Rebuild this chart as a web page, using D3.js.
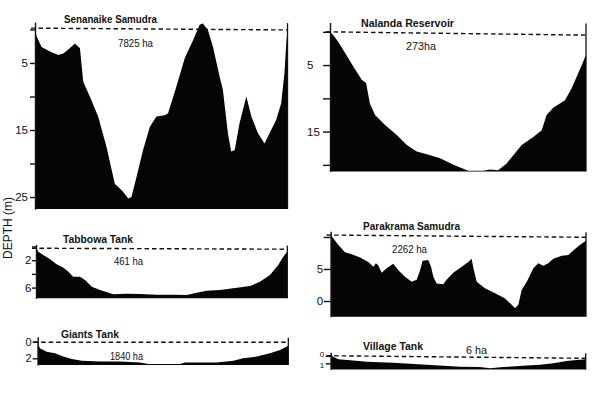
<!DOCTYPE html>
<html><head><meta charset="utf-8">
<script src="https://cdn.jsdelivr.net/npm/d3@7/dist/d3.min.js"></script>
<style>body{margin:0;background:#fff}svg{display:block}text{font-family:"Liberation Sans",Arial,sans-serif}</style>
</head><body><svg id="c" width="600" height="407"></svg>
<script>
// ---------- DATA ----------
const lakeNames = ["Senanaike Samudra","Nalanda Reservoir","Tabbowa Tank","Parakrama Samudra","Giants Tank","Village Tank"];
const lakeAreas = ["7825 ha","273ha","461 ha","2262 ha","1840 ha","6 ha"];
const axisTitle = "DEPTH (m)";

// distance along transect (% of width) and depth (m)
const senanaikeDist  = [0,0.7,2.6,5.9,9.2,11.2,13.2,15.8,17.8,19.1,21.7,25.0,28.3,31.6,34.9,36.9,38.2,40.2,42.8,45.5,48.1,51.4,52.7,56.0,59.3,62.6,65.2,66.5,68.5,70.5,73.1,74.4,76.4,77.7,79.1,81.0,83.7,85.7,88.3,90.9,92.9,95.5,97.5,98.8,99.5,100];
const senanaikeDepth = [0,1.1,2.6,3.3,3.8,3.6,3.0,2.1,2.8,7.8,10.0,13.0,17.5,23.0,24.2,25.2,25.0,22.0,18.0,14.5,13.0,12.8,12.5,8.5,4.3,1.6,-0.7,-0.9,0.1,2.6,7.0,9.0,15.5,18.2,18.0,14.0,10.0,13.0,15.5,17.0,15.5,13.5,11.0,6.5,2.1,0.1];

const nalandaDist  = [0,1.3,3.2,5.9,9.1,12.4,14.1,15.6,17.6,21.5,26.1,30.0,33.9,37.8,43.0,48.2,54.0,59.9,62.5,65.7,69.0,74.9,79.4,82.7,84.6,87.2,91.8,94.4,97.0,98.9,99.7,100];
const nalandaDepth = [0,0.5,1.5,3.2,5.2,7.2,7.7,10.8,12.5,14.0,15.5,17.0,18.0,18.4,19.0,20.0,20.9,20.9,20.7,20.8,19.8,17.0,15.8,14.8,12.5,11.4,10.3,8.5,6.2,4.5,3.7,3.6];

const tabbowaDist  = [0,0.9,2.9,5.6,8.2,10.9,12.9,14.8,17.5,19.5,22.2,25.5,30.8,36.1,41.4,48.0,54.6,60.0,63.9,67.9,73.2,78.5,85.2,89.1,93.1,96.4,98.4,100];
const tabbowaDepth = [0.2,0.76,1.24,1.87,2.6,3.1,3.68,4.4,4.4,4.9,5.87,6.35,6.98,6.9,6.93,7.04,7.04,7.08,6.74,6.45,6.35,6.1,5.77,5.14,4.16,2.7,1.49,0.76];

// Parakrama Samudra axis is a level scale (0 and 5 labelled, water at ~10)
const parakramaDist  = [0,1.0,3.0,5.6,8.2,11.5,14.7,16.7,17.7,18.6,20.0,21.9,24.5,26.5,29.1,31.7,33.7,35.0,36.0,38.2,39.3,40.2,41.5,44.1,45.4,48.0,51.3,53.9,55.2,55.9,57.2,60.4,64.4,68.3,70.9,72.2,73.5,74.8,76.8,79.4,81.3,83.3,85.2,87.2,90.5,93.1,95.0,97.6,100];
const parakramaLevel = [10.3,9.8,8.75,7.6,7.3,6.8,6.1,5.35,5.9,5.6,4.4,5.1,5.8,4.8,3.8,3.0,3.3,4.8,6.3,6.4,5.35,3.8,2.75,2.6,3.3,4.4,5.35,6.1,6.6,5.1,3.0,2.0,1.2,0.4,-0.6,-1.15,-0.6,1.7,3.0,5.1,5.9,5.5,5.9,6.6,7.05,7.2,7.9,8.75,9.4];

const giantsDist  = [0,0.9,3.6,6.9,10.2,13.6,17.6,24.9,32.8,40.8,44.1,51.5,56.8,58.8,64.8,71.4,78.1,82.0,87.4,92.7,96.7,100];
const giantsDepth = [0.2,0.8,1.2,1.4,1.8,2.1,2.3,2.4,2.4,2.5,2.7,2.7,2.7,2.5,2.5,2.5,2.3,2.0,1.8,1.4,1.0,0.5];

const villageDist  = [0,1.0,3.0,7.6,14.1,24.5,37.6,50.7,58.5,62.5,67.7,76.9,82.0,87.3,92.5,96.5,100];
const villageDepth = [-0.2,0.13,0.47,0.6,0.8,0.92,1.2,1.45,1.5,1.66,1.5,1.3,1.2,1.0,0.7,0.57,0.47];

// water surface (left, right) in axis units
const senanaikeWater = [-0.2,0.07];
const nalandaWater   = [0,0.5];
const tabbowaWater   = [0.26,0.4];
const parakramaWater = [10.3,9.95];
const giantsWater    = [0.07,0.07];
const villageWater   = [0,0.34];

// axis ticks
const senanaikeTicks = [0,5,10,15,20,25],  senanaikeTickLabels = ["","5","","15","","25"];
const nalandaTicks   = [0,5,10,15,20],     nalandaTickLabels   = ["","5","","15",""];
const tabbowaTicks   = [0,2,4,6],          tabbowaTickLabels   = ["","2","","6"];
const parakramaTicks = [10,5,0],           parakramaTickLabels = ["","5","0"];
const giantsTicks    = [0,2],              giantsTickLabels    = ["0","2"];
const villageTicks   = [0,1],              villageTickLabels   = ["0","1"];

// ---------- LAYOUT ----------
const panels = [
 {dist:senanaikeDist, val:senanaikeDepth, water:senanaikeWater, ticks:senanaikeTicks, labels:senanaikeTickLabels,
  x0:35, x1:287.5, dom:[-1.1,26.8], rng:[22.1,209.1], tick:5, pad:2, fs:11.5,
  title:[64,22.5,93], area:[118,46.5,35]},
 {dist:nalandaDist, val:nalandaDepth, water:nalandaWater, ticks:nalandaTicks, labels:nalandaTickLabels,
  x0:330, x1:586, dom:[-1.4,21.0], rng:[22.5,171.5], tick:7, pad:2, startAt:-23, fs:11.5,
  title:[361,26.7,93], area:[406,50,30]},
 {dist:tabbowaDist, val:tabbowaDepth, water:tabbowaWater, ticks:tabbowaTicks, labels:tabbowaTickLabels,
  x0:36, x1:287.3, dom:[-0.3,7.56], rng:[244.4,298.3], tick:4, pad:0.5, fs:11.5,
  title:[63,243,70], area:[114,265,29]},
 {dist:parakramaDist, val:parakramaLevel, water:parakramaWater, ticks:parakramaTicks, labels:parakramaTickLabels,
  x0:330.7, x1:586, dom:[10.9,-2.45], rng:[231.2,316.7], tick:7, pad:0.5, fs:11.5,
  title:[363,230,97], area:[392,253,35]},
 {dist:giantsDist, val:giantsDepth, water:giantsWater, ticks:giantsTicks, labels:giantsTickLabels,
  x0:37.7, x1:288.3, dom:[-0.6,2.8], rng:[336.7,364.9], tick:5, pad:1, fs:11,
  title:[61,337.5,58], area:[110,360,33]},
 {dist:villageDist, val:villageDepth, water:villageWater, ticks:villageTicks, labels:villageTickLabels,
  x0:330.7, x1:585.7, dom:[-0.45,1.8], rng:[352.3,369.4], tick:5, pad:1.5, fs:8, nudge:[-1.6,1.8],
  title:[363,349.5,60], area:[466,354,21]}
];

const svg = d3.select("#c");
svg.append("rect").attr("width",600).attr("height",407).attr("fill","#fff");

panels.forEach((p,i) => {
  const x = d3.scaleLinear().domain([0,100]).range([p.x0,p.x1]);
  const y = d3.scaleLinear().domain(p.dom).range(p.rng);
  const g = svg.append("g");
  const pts = p.dist.map((d,k)=>[d,p.val[k]]);

  g.append("path").datum(pts)
    .attr("fill","#050505")
    .attr("d", d3.area().x(d=>x(d[0])).y0(p.rng[1]).y1(d=>y(d[1])));

  // water surface
  g.append("line")
    .attr("x1", p.x0-4).attr("x2", p.x1)
    .attr("y1", y(p.water[0])).attr("y2", y(p.water[1]))
    .attr("stroke","#111").attr("stroke-width",1.4).attr("stroke-dasharray","4.5,3");

  // right edge
  g.append("line").attr("x1",p.x1).attr("x2",p.x1)
    .attr("y1",p.rng[0]+1).attr("y2",p.rng[1])
    .attr("stroke","#111").attr("stroke-width",1.3);

  // left axis
  const ax = d3.axisLeft(y).tickValues(p.ticks)
    .tickFormat((d,k)=>p.labels[k]).tickSize(p.tick).tickPadding(p.pad).tickSizeOuter(0);
  const ag = g.append("g").attr("transform",`translate(${p.x0},0)`).call(ax);
  ag.select(".domain").attr("stroke","#111").attr("stroke-width",1.4);
  ag.selectAll(".tick line").attr("stroke","#111").attr("stroke-width",1.4);
  ag.selectAll(".tick text").attr("fill","#111")
    .style("font-family",'"Liberation Sans",Arial,sans-serif').style("font-size",p.fs+"px");
  if (p.startAt !== undefined) ag.selectAll(".tick text").attr("text-anchor","start").attr("x",p.startAt);
  if (p.nudge) ag.selectAll(".tick text").attr("y",(d,k)=>p.nudge[k]);

  g.append("text").text(lakeNames[i])
    .attr("x",p.title[0]).attr("y",p.title[1])
    .attr("textLength",p.title[2]).attr("lengthAdjust","spacingAndGlyphs")
    .attr("font-size","10px").attr("font-weight","bold").attr("fill","#111");

  g.append("text").text(lakeAreas[i])
    .attr("x",p.area[0]).attr("y",p.area[1])
    .attr("textLength",p.area[2]).attr("lengthAdjust","spacingAndGlyphs")
    .attr("font-size","10.5px").attr("fill","#111");
});

svg.append("text").text(axisTitle)
  .attr("transform","translate(12,228) rotate(-90)")
  .attr("text-anchor","middle").attr("font-size","12px").attr("fill","#111");
</script>
</body></html>
